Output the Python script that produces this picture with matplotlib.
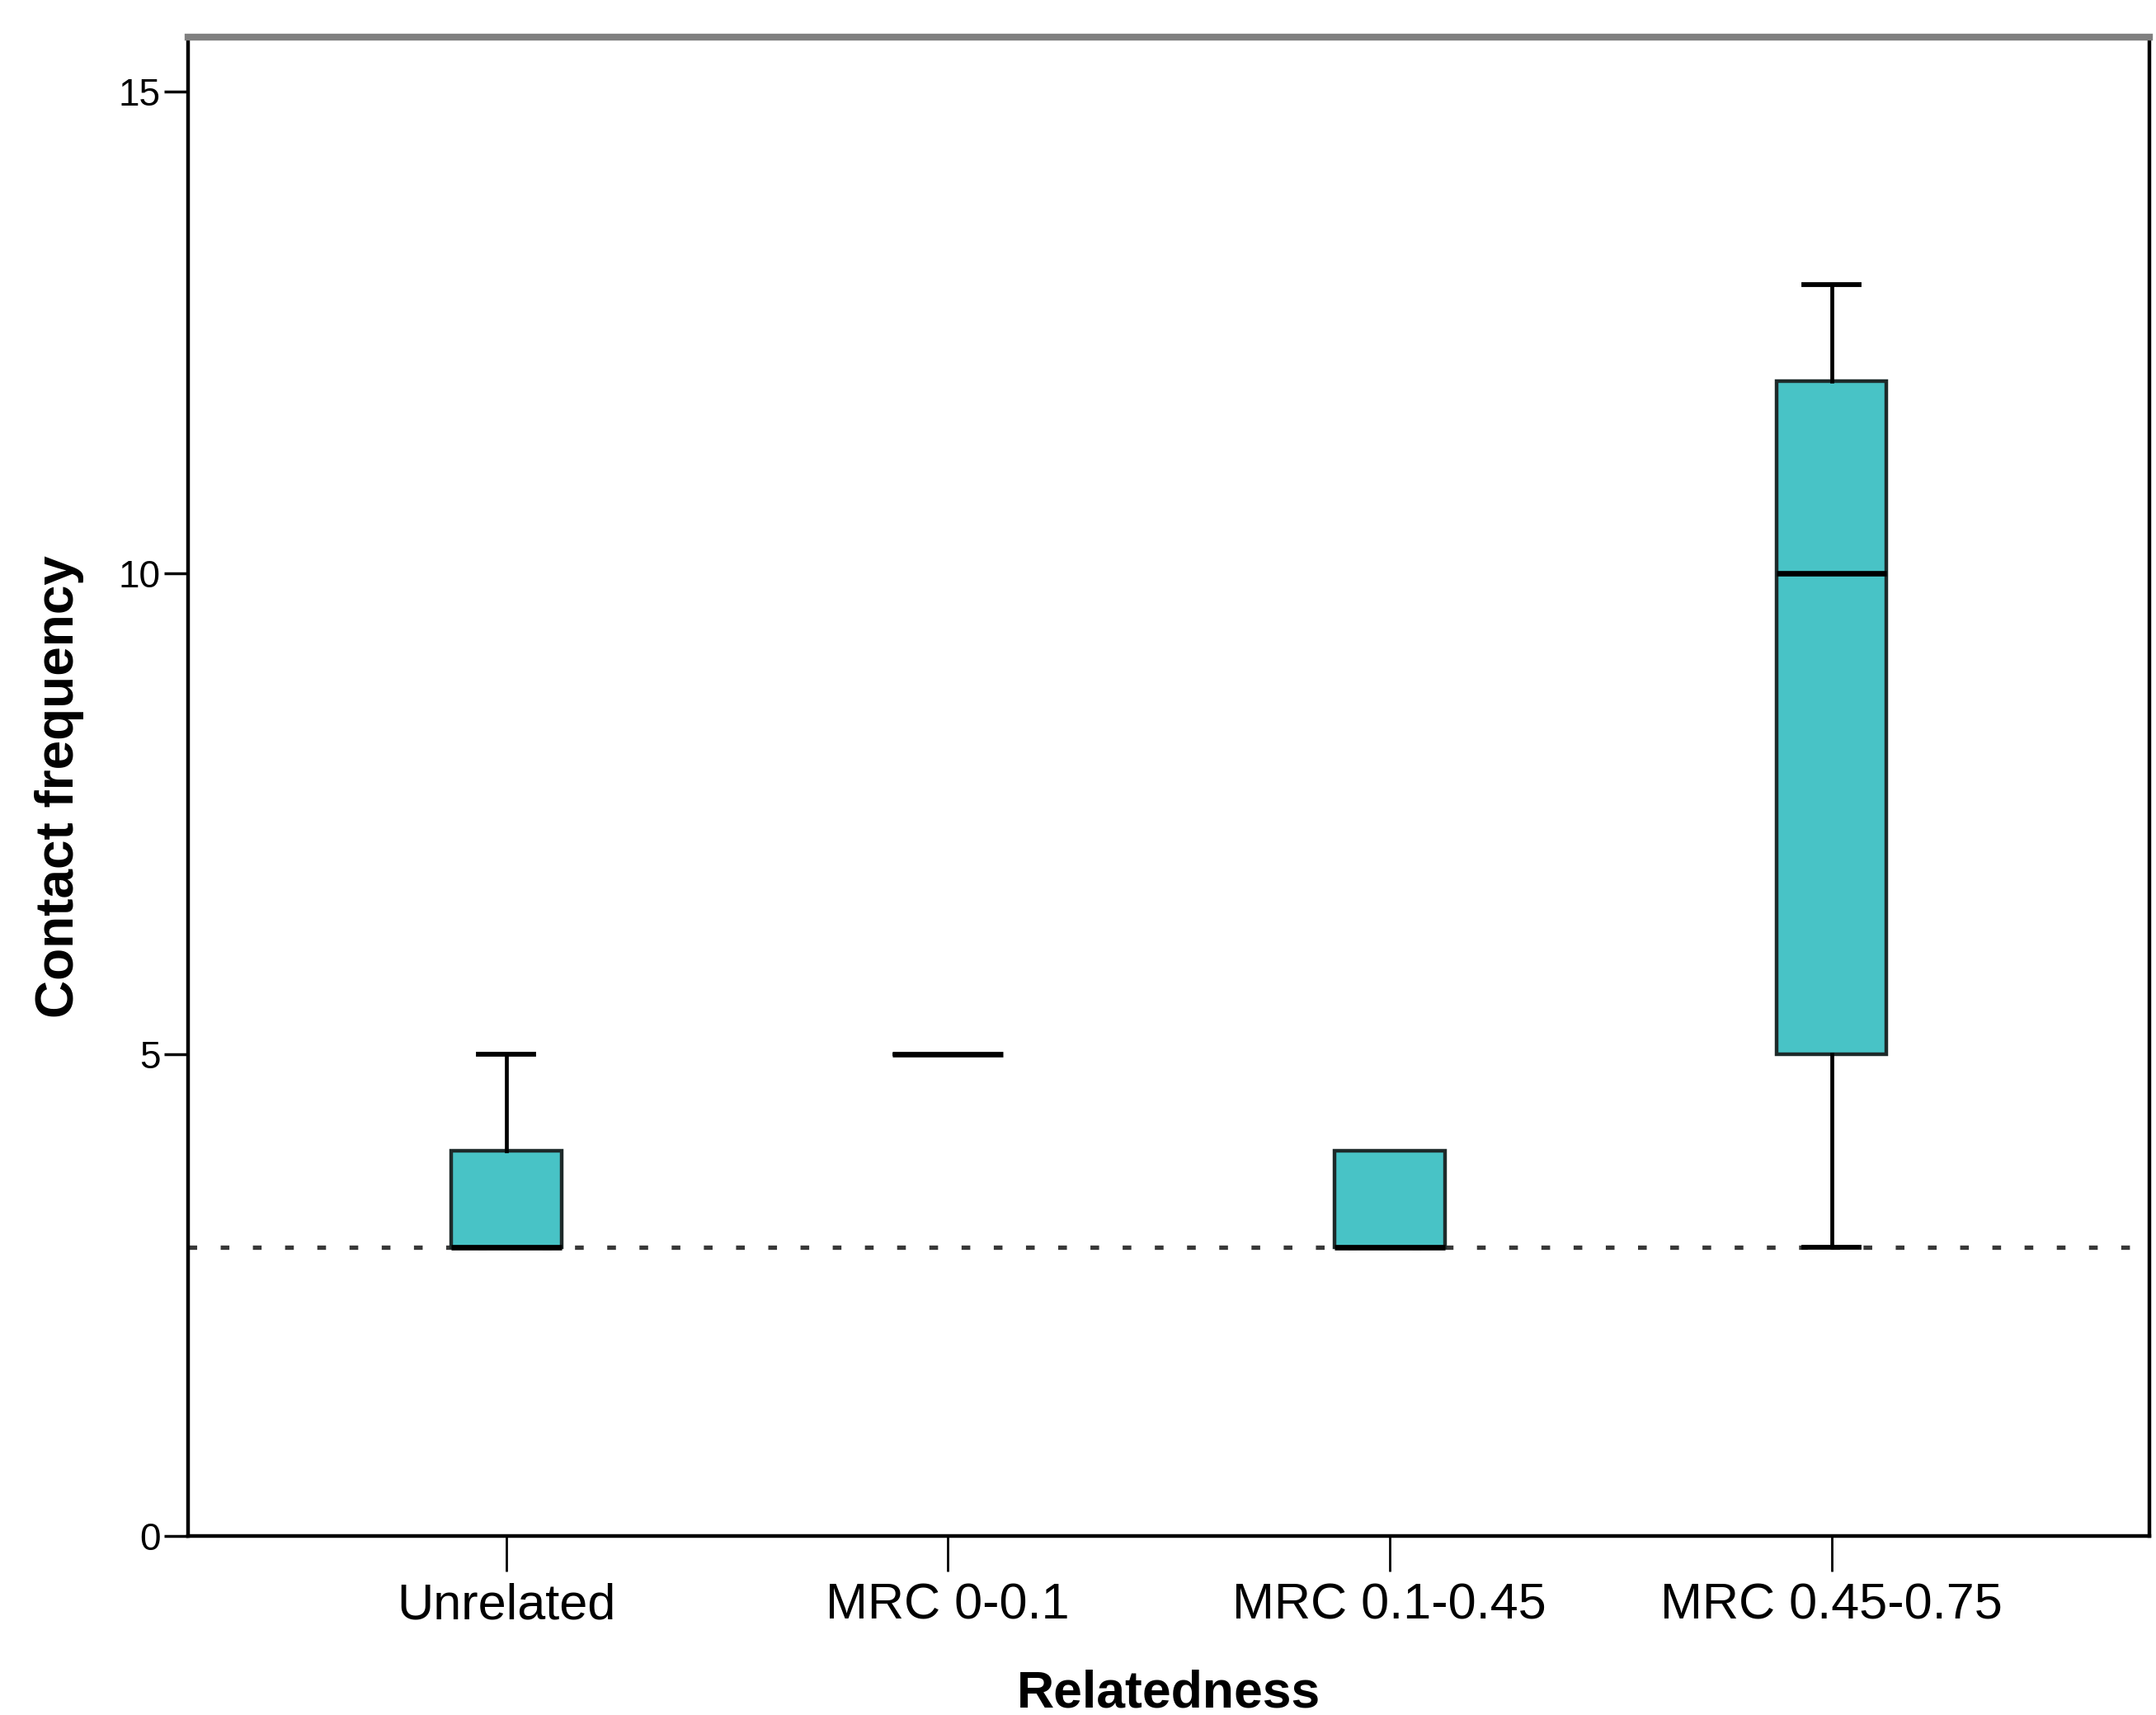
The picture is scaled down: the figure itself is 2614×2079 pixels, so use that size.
import matplotlib
matplotlib.use("Agg")
import matplotlib.pyplot as plt

plt.rcParams['font.family'] = ['Liberation Sans', 'DejaVu Sans']

# Box plot summaries
groups = ['Unrelated', 'MRC 0-0.1', 'MRC 0.1-0.45', 'MRC 0.45-0.75']
whisker_low = [3, 5, 3, 3]
q1 = [3, 5, 3, 5]
median = [3, 5, 3, 10]
q3 = [4, 5, 4, 12]
whisker_high = [5, 5, 4, 13]
reference_value = 3
y_ticks = [0, 5, 10, 15]

stats = []
for i, name in enumerate(groups):
    stats.append({'label': name, 'whislo': whisker_low[i], 'q1': q1[i],
                  'med': median[i], 'q3': q3[i], 'whishi': whisker_high[i],
                  'fliers': []})

fig = plt.figure(figsize=(26.14, 20.79), dpi=100)
ax = fig.add_axes([0.0872, 0.1044, 0.9098, 0.874])

ax.axhline(reference_value, color='#383838', lw=3.8,
           linestyle=(0, (2, 5.4)), zorder=1)

positions = list(range(1, len(groups) + 1))
parts = ax.bxp(stats, positions=positions, widths=0.25, patch_artist=True,
               showfliers=False,
               boxprops=dict(facecolor='#48c3c6', edgecolor='#1e2a2a', linewidth=3.2),
               medianprops=dict(color='black', linewidth=4.8),
               whiskerprops=dict(color='black', linewidth=3.4),
               capprops=dict(color='black', linewidth=4.2),
               capwidths=0.125, zorder=3)

# caps that sit right on a box edge are not drawn in the original
for i in range(len(groups)):
    if whisker_low[i] == q1[i]:
        parts['caps'][2 * i].set_visible(False)
    if whisker_high[i] == q3[i]:
        parts['caps'][2 * i + 1].set_visible(False)

ax.set_xlim(0.28, 4.72)
ax.set_ylim(0, 15.57)
ax.set_yticks(y_ticks)
ax.set_xticks(positions)
ax.set_xticklabels(groups)

ax.tick_params(axis='x', labelsize=44, length=31, width=2, pad=10)
ax.tick_params(axis='y', labelsize=33, length=21, width=2.5, pad=3)

ax.set_xlabel('Relatedness', fontsize=45, fontweight='bold', labelpad=34)
ax.set_ylabel('Contact frequency', fontsize=46, fontweight='bold', labelpad=30)

for side in ['left', 'bottom', 'right']:
    ax.spines[side].set_linewidth(3.2)
    ax.spines[side].set_color('black')
ax.spines['top'].set_linewidth(6)
ax.spines['top'].set_color('#808080')

fig.savefig('out.png', dpi=100)
